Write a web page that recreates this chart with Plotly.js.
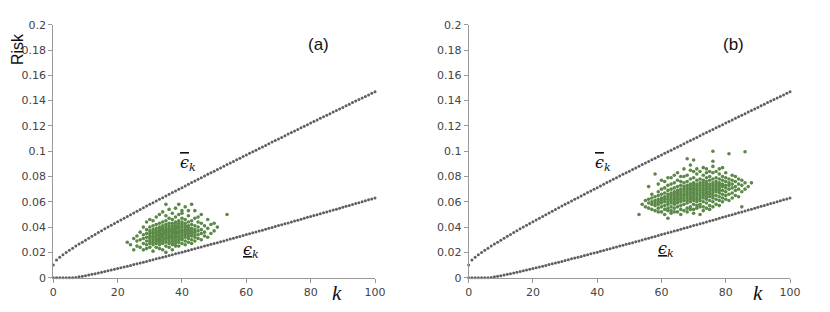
<!DOCTYPE html>
<html>
<head>
<meta charset="utf-8">
<script src="https://cdn.plot.ly/plotly-3.0.1.min.js"></script>
<style>html,body{margin:0;padding:0;background:#fff;}</style>
</head>
<body>
<div id="chart" style="width:830px;height:312px;"></div>
<script>
// Upper bound (eps-bar_k), k = 0..100
const upperBound = [0.0100,0.0139,0.0161,0.0181,0.0199,0.0217,0.0233,0.0250,0.0266,0.0281,
0.0297,0.0312,0.0327,0.0342,0.0357,0.0371,0.0386,0.0400,0.0414,0.0428,
0.0442,0.0456,0.0470,0.0484,0.0498,0.0512,0.0525,0.0539,0.0553,0.0566,
0.0580,0.0593,0.0606,0.0620,0.0633,0.0646,0.0660,0.0673,0.0686,0.0699,
0.0712,0.0725,0.0739,0.0752,0.0765,0.0778,0.0791,0.0804,0.0817,0.0829,
0.0842,0.0855,0.0868,0.0881,0.0894,0.0907,0.0919,0.0932,0.0945,0.0958,
0.0970,0.0983,0.0996,0.1008,0.1021,0.1034,0.1046,0.1059,0.1072,0.1084,
0.1097,0.1109,0.1122,0.1135,0.1147,0.1160,0.1172,0.1185,0.1197,0.1210,
0.1222,0.1235,0.1247,0.1260,0.1272,0.1284,0.1297,0.1309,0.1322,0.1334,
0.1346,0.1359,0.1371,0.1384,0.1396,0.1408,0.1421,0.1433,0.1445,0.1458,0.1470];
// Lower bound (eps-underbar_k), k = 0..100
const lowerBound = [0,0,0,0,0,0,0,0.0002,0.0007,0.0011,
0.0016,0.0022,0.0027,0.0032,0.0038,0.0043,0.0049,0.0055,0.0061,0.0067,
0.0073,0.0079,0.0085,0.0091,0.0097,0.0104,0.0110,0.0116,0.0123,0.0129,
0.0136,0.0142,0.0149,0.0155,0.0162,0.0168,0.0175,0.0182,0.0189,0.0195,
0.0202,0.0209,0.0216,0.0222,0.0229,0.0236,0.0243,0.0250,0.0257,0.0264,
0.0270,0.0277,0.0284,0.0291,0.0298,0.0305,0.0312,0.0319,0.0326,0.0333,
0.0341,0.0348,0.0355,0.0362,0.0369,0.0376,0.0383,0.0390,0.0397,0.0405,
0.0412,0.0419,0.0426,0.0433,0.0440,0.0448,0.0455,0.0462,0.0469,0.0477,
0.0484,0.0491,0.0498,0.0506,0.0513,0.0520,0.0528,0.0535,0.0542,0.0549,
0.0557,0.0564,0.0571,0.0579,0.0586,0.0593,0.0601,0.0608,0.0616,0.0623,0.0630];

// Panel (a) empirical risks, grouped by k
const clusterA_k = [23,24,25,26,27,28,29,30,31,32,33,34,35,36,37,38,39,40,41,42,43,44,45,46,47,48,49,50,51,54];
const clusterA_r = [
[0.028],[0.026],[0.022,0.031],[0.025,0.029,0.033],[0.024,0.030,0.036],
[0.022,0.027,0.031,0.034,0.040],
[0.023,0.026,0.029,0.032,0.035,0.038,0.044],
[0.024,0.027,0.029,0.031,0.033,0.035,0.037,0.040,0.046],
[0.021,0.026,0.028,0.030,0.032,0.033,0.035,0.036,0.038,0.041,0.045],
[0.024,0.027,0.029,0.030,0.031,0.033,0.034,0.036,0.037,0.039,0.042,0.048],
[0.023,0.026,0.028,0.030,0.031,0.032,0.034,0.035,0.036,0.038,0.040,0.043,0.050],
[0.022,0.027,0.029,0.030,0.032,0.033,0.034,0.035,0.037,0.038,0.039,0.041,0.044,0.052],
[0.020,0.025,0.028,0.030,0.031,0.032,0.034,0.035,0.036,0.037,0.038,0.040,0.042,0.045,0.049,0.058],
[0.024,0.027,0.029,0.031,0.032,0.033,0.034,0.036,0.037,0.038,0.039,0.041,0.043,0.047,0.054],
[0.022,0.026,0.028,0.030,0.032,0.033,0.035,0.036,0.037,0.038,0.040,0.041,0.043,0.046,0.051],
[0.025,0.027,0.029,0.031,0.032,0.034,0.035,0.036,0.038,0.039,0.040,0.042,0.044,0.048,0.055],
[0.025,0.028,0.030,0.032,0.033,0.035,0.036,0.037,0.039,0.040,0.041,0.043,0.045,0.050,0.058],
[0.027,0.030,0.031,0.033,0.034,0.036,0.037,0.038,0.040,0.042,0.044,0.047,0.051,0.053],
[0.026,0.029,0.032,0.034,0.035,0.037,0.038,0.040,0.041,0.043,0.046,0.056],
[0.028,0.031,0.033,0.035,0.036,0.038,0.039,0.041,0.044,0.049,0.053],
[0.027,0.030,0.033,0.035,0.037,0.039,0.042,0.045,0.058],
[0.029,0.032,0.034,0.036,0.038,0.041,0.047,0.053],
[0.031,0.034,0.037,0.040,0.044,0.048],
[0.030,0.035,0.038,0.043,0.050],
[0.033,0.036,0.041],
[0.032,0.039,0.046],
[0.035,0.042],
[0.037,0.043],
[0.040],
[0.050]];

// Panel (b) empirical risks, grouped by k
const clusterB_k = [53,54,55,56,57,58,59,60,61,62,63,64,65,66,67,68,69,70,71,72,73,74,75,76,77,78,79,80,81,82,83,84,85,86,87,88];
const clusterB_r = [
[0.050],[0.058],[0.056,0.061],[0.055,0.059,0.062,0.072],
[0.054,0.058,0.060,0.063,0.066],
[0.053,0.057,0.059,0.061,0.064,0.082],
[0.052,0.055,0.058,0.060,0.062,0.065,0.068,0.074],
[0.052,0.056,0.059,0.061,0.063,0.066,0.070,0.077],
[0.050,0.054,0.057,0.060,0.062,0.064,0.067,0.071,0.076],
[0.047,0.053,0.055,0.058,0.060,0.062,0.064,0.066,0.069,0.073,0.079],
[0.051,0.053,0.056,0.059,0.061,0.063,0.065,0.067,0.070,0.074,0.079],
[0.052,0.055,0.058,0.060,0.062,0.064,0.066,0.068,0.071,0.075,0.081],
[0.052,0.056,0.059,0.061,0.063,0.065,0.067,0.069,0.072,0.077,0.083],
[0.050,0.054,0.057,0.060,0.062,0.064,0.066,0.068,0.070,0.073,0.076,0.080],
[0.053,0.058,0.061,0.063,0.065,0.066,0.068,0.070,0.072,0.075,0.080,0.086],
[0.052,0.055,0.059,0.061,0.063,0.065,0.067,0.069,0.071,0.073,0.076,0.081,0.094],
[0.054,0.056,0.060,0.062,0.064,0.066,0.068,0.070,0.072,0.074,0.078,0.085,0.089],
[0.051,0.054,0.058,0.061,0.063,0.065,0.067,0.069,0.071,0.073,0.075,0.079,0.084,0.093],
[0.055,0.057,0.060,0.062,0.064,0.066,0.068,0.070,0.072,0.074,0.077,0.082,0.086],
[0.050,0.056,0.058,0.061,0.063,0.065,0.067,0.069,0.071,0.073,0.075,0.078,0.084],
[0.053,0.056,0.060,0.063,0.065,0.067,0.069,0.071,0.073,0.075,0.077,0.081,0.087],
[0.055,0.059,0.062,0.064,0.066,0.068,0.070,0.072,0.074,0.076,0.079,0.083,0.086],
[0.054,0.057,0.061,0.064,0.066,0.068,0.070,0.072,0.074,0.077,0.080,0.084],
[0.056,0.060,0.063,0.065,0.067,0.069,0.071,0.073,0.075,0.078,0.083,0.088,0.092,0.100],
[0.058,0.062,0.065,0.068,0.070,0.072,0.074,0.076,0.079,0.084],
[0.057,0.061,0.064,0.067,0.069,0.071,0.073,0.075,0.078,0.082,0.086],
[0.060,0.063,0.066,0.069,0.072,0.074,0.077,0.080,0.087],
[0.062,0.065,0.068,0.071,0.073,0.076,0.079,0.083],
[0.061,0.066,0.070,0.073,0.075,0.078,0.098],
[0.063,0.067,0.071,0.074,0.077,0.081],
[0.065,0.069,0.072,0.076,0.080],
[0.064,0.070,0.074,0.078],
[0.056,0.068,0.073,0.077],
[0.070,0.075,0.0996],
[0.072],
[0.075]];

const xTicks = [0,20,40,60,80,100];
const panelLabels = ['(a)','(b)'];

function flatten(ks, rs){
  const x=[], y=[];
  ks.forEach((k,i)=>{ rs[i].forEach(v=>{ x.push(k); y.push(v); }); });
  return {x,y};
}
const kIdx = upperBound.map((_,i)=>i);
const A = flatten(clusterA_k, clusterA_r);
const B = flatten(clusterB_k, clusterB_r);

const grey = '#5f5f5f', green = '#5b8a47';
function boundTrace(y, xa, ya){
  return {x:kIdx, y:y, xaxis:xa, yaxis:ya, type:'scatter', mode:'markers',
    marker:{size:3, color:grey}, cliponaxis:false, hoverinfo:'skip'};
}
function clusterTrace(d, xa, ya){
  return {x:d.x, y:d.y, xaxis:xa, yaxis:ya, type:'scatter', mode:'markers',
    marker:{size:3.6, color:green}, cliponaxis:false, hoverinfo:'skip'};
}
const data = [
  boundTrace(upperBound,'x','y'), boundTrace(lowerBound,'x','y'), clusterTrace(A,'x','y'),
  boundTrace(upperBound,'x2','y2'), boundTrace(lowerBound,'x2','y2'), clusterTrace(B,'x2','y2')
];

const W=830, H=312;
const px = v=>v/W, py = v=>1-v/H;
const tickFont = {family:'DejaVu Sans, sans-serif', size:11, color:'#444'};
function xaxisCfg(dom, anchor){
  return {domain:dom, anchor:anchor, range:[0,100], tickvals:xTicks, ticks:'outside', ticklen:4,
    tickcolor:'#999', showline:true, linecolor:'#999', linewidth:1, showgrid:false, zeroline:false,
    tickfont:tickFont, fixedrange:true};
}
function yaxisCfg(anchor){
  return {domain:[py(277.7), py(24.7)], anchor:anchor, range:[0,0.2], tick0:0, dtick:0.02, ticks:'outside', ticklen:4,
    tickcolor:'#999', showline:true, linecolor:'#999', linewidth:1, showgrid:false, zeroline:false,
    tickfont:tickFont, fixedrange:true};
}
const serif = 'DejaVu Serif, Liberation Serif, serif';
const epsUp = '<span style="text-decoration:overline"><i>ϵ</i></span><sub><i>k</i></sub>';
const epsLo = '<span style="text-decoration:underline"><i>ϵ</i></span><sub><i>k</i></sub>';
function ann(text, x, y, font, extra){
  return Object.assign({text:text, xref:'paper', yref:'paper', x:px(x), y:py(y), xanchor:'center', yanchor:'middle',
    showarrow:false, font:font}, extra||{});
}
const layout = {
  width:W, height:H, margin:{l:0,r:0,t:0,b:0}, paper_bgcolor:'#fff', plot_bgcolor:'#fff', showlegend:false,
  xaxis: xaxisCfg([px(53.3), px(375)], 'y'),
  yaxis: yaxisCfg('x'),
  xaxis2: xaxisCfg([px(468.7), px(790)], 'y2'),
  yaxis2: yaxisCfg('x2'),
  annotations:[
    ann('Risk', 17, 49, {family:'Liberation Sans, Arial, sans-serif', size:16, color:'#111'}, {textangle:-90}),
    ann(panelLabels[0], 318, 45, {family:'Liberation Sans, Arial, sans-serif', size:17, color:'#111'}),
    ann(panelLabels[1], 733, 45, {family:'Liberation Sans, Arial, sans-serif', size:17, color:'#111'}),
    ann('<i>k</i>', 337, 293, {family:'Liberation Serif, serif', size:21, color:'#111'}),
    ann('<i>k</i>', 758, 293, {family:'Liberation Serif, serif', size:21, color:'#111'}),
    ann(epsUp, 188, 163, {family:serif, size:16, color:'#111'}),
    ann(epsUp, 603, 163, {family:serif, size:16, color:'#111'}),
    ann(epsLo, 251, 250, {family:serif, size:16, color:'#111'}),
    ann(epsLo, 666, 249, {family:serif, size:16, color:'#111'})
  ]
};
Plotly.newPlot('chart', data, layout, {staticPlot:true, displayModeBar:false});
</script>
</body>
</html>
